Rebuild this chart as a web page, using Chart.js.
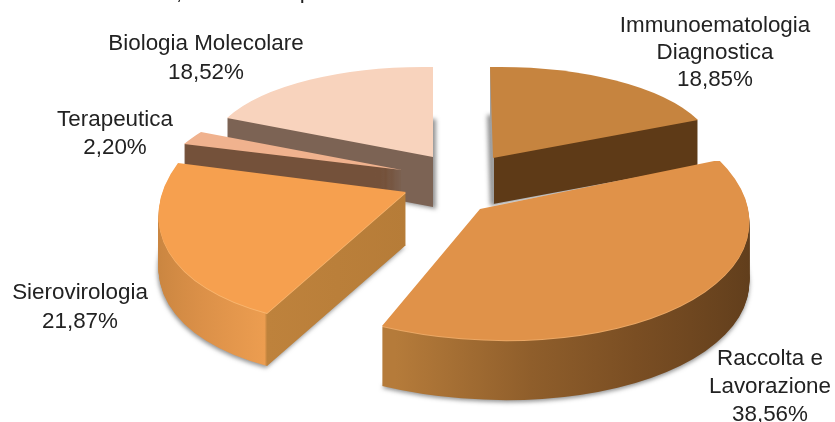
<!DOCTYPE html>
<html><head><meta charset="utf-8">
<style>html,body{margin:0;padding:0;background:#fff}canvas{display:block;filter:blur(0.4px)}</style>
<script src="https://cdn.jsdelivr.net/npm/chart.js@4"></script>
</head><body>
<canvas id="c" width="835" height="422"></canvas>
<script>
// ---- data
const categories = ['Immunoematologia Diagnostica','Raccolta e Lavorazione','Sierovirologia','Terapeutica','Biologia Molecolare'];
const shares = [18.85, 38.56, 21.87, 2.20, 18.52];
const labelLines = [['Immunoematologia','Diagnostica'],['Raccolta e','Lavorazione'],['Sierovirologia'],['Terapeutica'],['Biologia Molecolare']];
const topColors = ['#C6843F','#E09249','#F6A04F','#F0B28E','#F8D3BD'];

// ---- layout of the 3D look (apex, corner at slice start, corner at slice end, wall height, shadow x)
const poses = [
  {c:[493,158], p1:[490,67],  p2:[698,120], h:46, sx:-3},
  {c:[480,209], p1:[719,160], p2:[382,326], h:60, sx:0},
  {c:[406,192], p1:[267,313], p2:[178,163], h:53, sx:-1},
  {c:[402,170], p1:[201,132], p2:[184,144], h:50, sx:0},
  {c:[433,157], p1:[227,118], p2:[433,67],  h:50, sx:3}
];
const wallStops = [
  [[-1,'#A0A0A0'],[0.003,'#A0A0A0'],[0.006,'#5E3A17'],[1,'#5E3A17']],
  [[-0.4,'#B57B3A'],[0.1,'#8F5E2B'],[0.5,'#7A4E23'],[1,'#613E1C']],
  [[-1,'#C98540'],[-0.75,'#DB9048'],[-0.46,'#EC9D50'],[-0.449,'#BE823C'],[0,'#B67C38']],
  [[-1,'#74513A'],[1,'#74513A']],
  [[-1,'#7C6354'],[1,'#7C6354']]
];
const rimColors = [null,'#EBA865','#F9B56E',null,null];
const drawOrder = [0,4,3,2,1];
const labelPos = [
  {x:715,y:[32,59,86]},
  {x:770,y:[365,393,421]},
  {x:80, y:[299,328]},
  {x:115,y:[126,154]},
  {x:206,y:[50,79]}
];
// bits of a line cut off by the top edge of the picture
const cutOffMarks = [{t:',',x:179,y:-1},{t:'p',x:306,y:-2}];

const piePlugin = {
  id:'tiltedPie',
  beforeDatasetsDraw(chart){
    const ctx = chart.ctx, meta = chart.getDatasetMeta(0);
    drawOrder.forEach(i=>{
      const arc = meta.data[i], pose = poses[i];
      const t1 = arc.startAngle+Math.PI/2, t2 = arc.endAngle+Math.PI/2;
      const s1=Math.sin(t1),c1=Math.cos(t1),s2=Math.sin(t2),c2=Math.cos(t2);
      const ax=pose.p1[0]-pose.c[0], ay=pose.p1[1]-pose.c[1], bx=pose.p2[0]-pose.c[0], by=pose.p2[1]-pose.c[1];
      const det = s1*(-c2)-(-c1)*s2;
      const Ux=(-c2*ax+c1*bx)/det, Uy=(-c2*ay+c1*by)/det;
      const Vx=(s1*bx-s2*ax)/det, Vy=(s1*by-s2*ay)/det;
      const R=arc.outerRadius, cx=arc.x, cy=arc.y;
      const a=Ux/R,b=Uy/R,c=Vx/R,d=Vy/R;
      const e=pose.c[0]-a*cx-c*cy, f=pose.c[1]-b*cx-d*cy;
      const base=arc.options;
      const grad=ctx.createLinearGradient(cx-R,cy,cx+R,cy);
      wallStops[i].forEach(([u,col])=>grad.addColorStop((u+1)/2,col));
      for(let k=pose.h;k>=0;k--){
        ctx.save();
        ctx.translate(0,k);
        ctx.transform(a,b,c,d,e,f);
        if(k===pose.h){ctx.shadowColor='rgba(40,40,40,0.5)';ctx.shadowBlur=4;ctx.shadowOffsetY=2;ctx.shadowOffsetX=pose.sx;}
        let fill=grad;
        if(k===0) fill=base.backgroundColor;
        else if(k===1 && rimColors[i]) fill=rimColors[i];
        arc.options=Object.assign({},base,{backgroundColor:fill});
        arc.draw(ctx);
        ctx.restore();
      }
      arc.options=base;
    });
    return false;
  },
  afterDraw(chart){
    const ctx=chart.ctx;
    ctx.save();
    ctx.fillStyle='#222';
    ctx.font='22.4px "Liberation Sans"';
    ctx.textAlign='center';
    ctx.textBaseline='alphabetic';
    categories.forEach((_,i)=>{
      const lines=labelLines[i].concat(shares[i].toFixed(2).replace('.',',')+'%');
      lines.forEach((t,j)=>ctx.fillText(t,labelPos[i].x,labelPos[i].y[j]));
    });
    cutOffMarks.forEach(m=>ctx.fillText(m.t,m.x,m.y));
    ctx.restore();
  }
};

new Chart(document.getElementById('c'),{
  type:'pie',
  data:{labels:categories,datasets:[{data:shares,backgroundColor:topColors,borderWidth:0}]},
  options:{
    responsive:false,animation:false,
    layout:{padding:0},
    plugins:{legend:{display:false},tooltip:{enabled:false},title:{display:false}}
  },
  plugins:[piePlugin]
});
</script>
</body></html>
